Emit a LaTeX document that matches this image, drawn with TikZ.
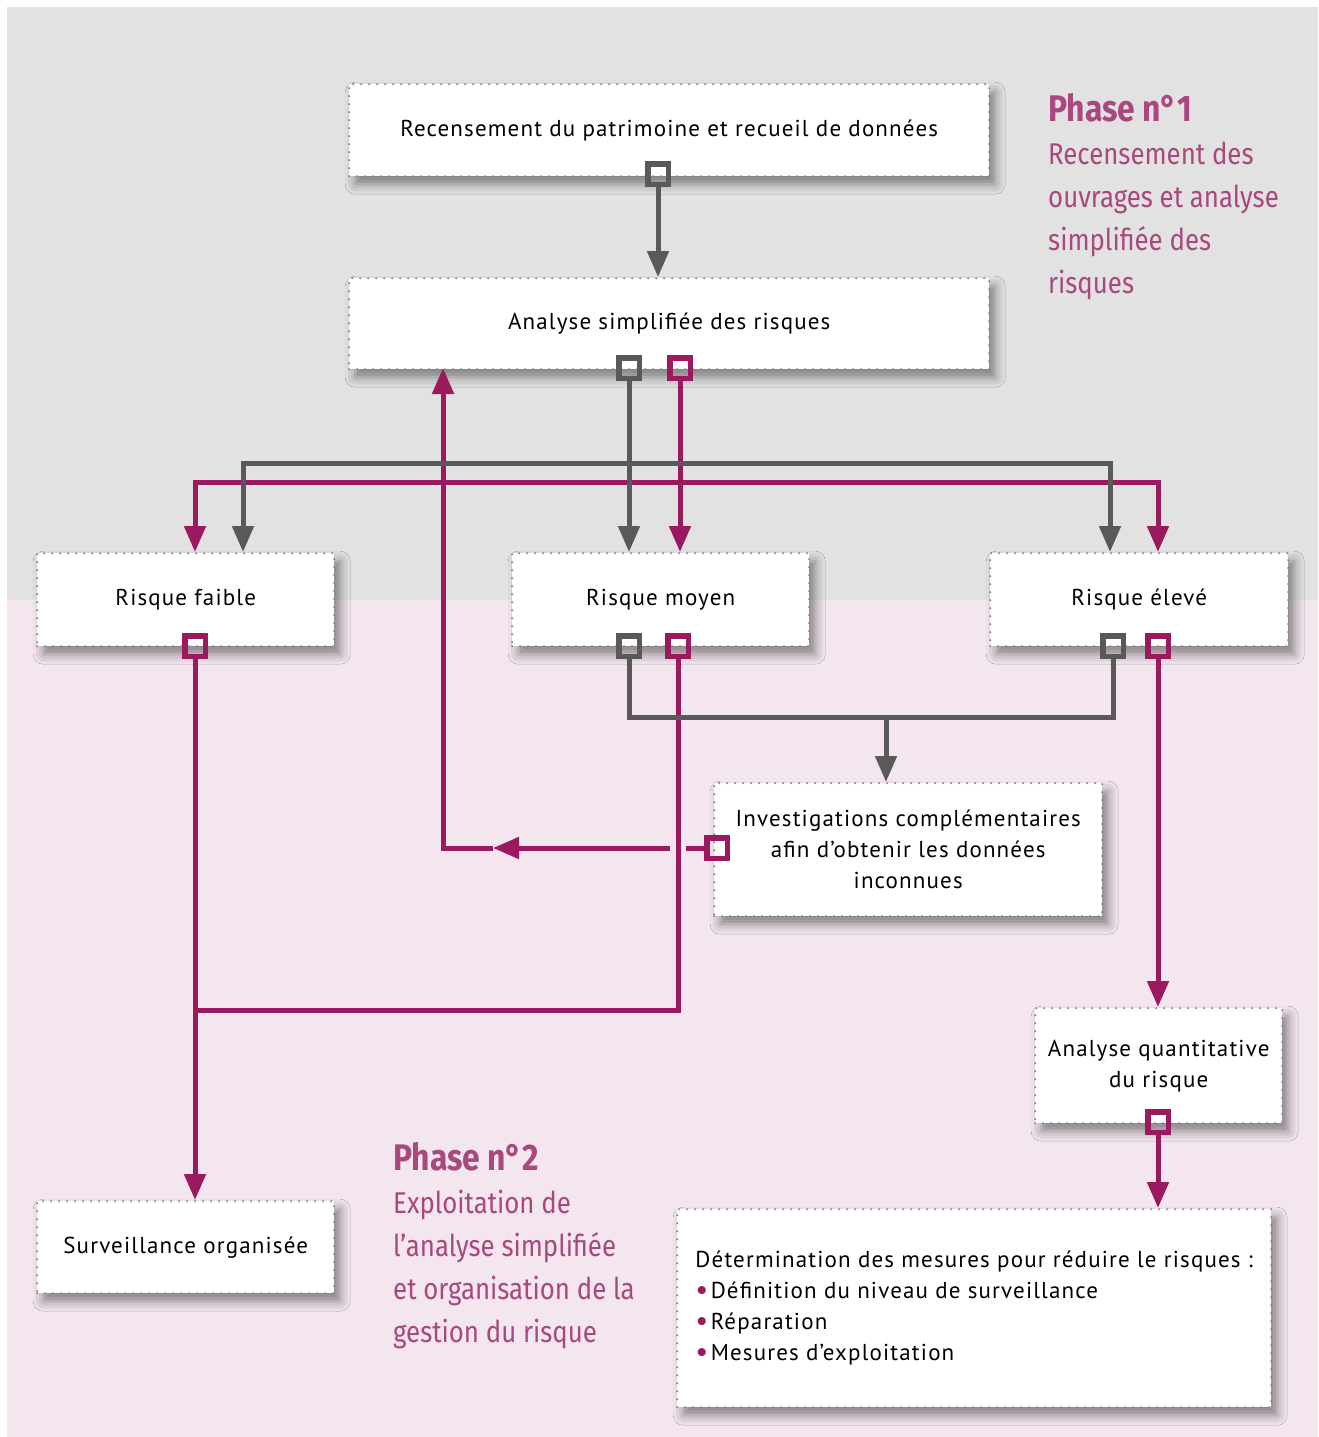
\documentclass[tikz,border=0pt]{standalone}
\usepackage{fontspec}
\setmainfont[LetterSpace=5]{PT Sans}
\newfontfamily\phasefont[FakeStretch=0.86]{Fira Sans}
\usetikzlibrary{arrows.meta,shadows.blur,calc}

\definecolor{bggray}{HTML}{E2E2E2}
\definecolor{bgpink}{HTML}{F3E6EF}
\definecolor{mag}{HTML}{9B195F}
\definecolor{dgray}{HTML}{595959}
\definecolor{dotc}{HTML}{8A8A8A}
\definecolor{phasec}{HTML}{A8487C}

\tikzset{
  box/.style={draw=dotc, line width=2.4pt, dash pattern=on 0pt off 8pt,
    line cap=round, fill=white, inner sep=0pt, align=center, anchor=north west,
    font=\fontsize{23}{31}\selectfont,
    blur shadow={shadow xshift=6pt, shadow yshift=-8pt,
      shadow blur radius=10pt, shadow opacity=45}},
  port/.style={rectangle, minimum size=26pt, inner sep=0pt, outer sep=0pt},
  portframe/.style={line width=5.5pt},
  gline/.style={draw=dgray, line width=5pt},
  mline/.style={draw=mag, line width=5pt},
  tip/.style={-{Triangle[length=26pt,width=21pt]}},
  garrow/.style={gline, tip},
  marrow/.style={mline, tip},
  phase/.style={text=phasec, anchor=north west, inner sep=0pt, align=left,
    font=\phasefont\fontsize{30}{43}\selectfont}
}
\newcommand{\puce}{{\color{mag}\raisebox{-0.05em}{\scalebox{1.25}{\textbullet}}}\hspace{0.1em}}
\newcommand{\portframe}[2]{%
  \draw[#2, portframe] ($(#1.south west)+(2.75pt,2.75pt)$) rectangle ($(#1.north east)+(-2.75pt,-2.75pt)$);}

\begin{document}
\begin{tikzpicture}[x=1pt, y=-1pt]
\useasboundingbox (0,0) rectangle (1318,1437);

% two phase backgrounds
\fill[bggray] (7,7) rectangle (1318,600);
\fill[bgpink] (7,600) rectangle (1318,1437);

% phase captions
\node[phase] (ph1) at (1048,93)
  {{\fontsize{37}{43}\selectfont\bfseries Phase n°1}\\
   Recensement des\\ ouvrages et analyse\\ simplifiée des\\ risques};
\node[phase] (ph2) at (393,1142)
  {{\fontsize{37}{43}\selectfont\bfseries Phase n°2}\\
   Exploitation de\\ l’analyse simplifiée\\ et organisation de la\\ gestion du risque};

% process boxes
\node[box, minimum width=640pt, minimum height=92pt] (rec) at (348,83)
  {Recensement du patrimoine et recueil de données};
\node[box, minimum width=640pt, minimum height=91pt] (ana) at (348,277)
  {Analyse simplifiée des risques};
\node[box, minimum width=297pt, minimum height=93pt] (fai) at (36,552)
  {Risque faible};
\node[box, minimum width=297pt, minimum height=93pt] (moy) at (511,552)
  {Risque moyen};
\node[box, minimum width=298pt, minimum height=93pt] (ele) at (989,552)
  {Risque élevé};
\node[box, minimum width=388pt, minimum height=133pt] (inv) at (713,782)
  {Investigations complémentaires\\ afin d’obtenir les données\\ inconnues};
\node[box, minimum width=247pt, minimum height=115pt] (qua) at (1034,1007)
  {Analyse quantitative\\ du risque};
\node[box, minimum width=297pt, minimum height=92pt] (sur) at (36,1200)
  {Surveillance organisée};
\node[box, minimum width=594pt, minimum height=198pt, align=left] (det) at (676,1208)
  {Détermination des mesures pour réduire le risques :\\
   \puce Définition du niveau de surveillance\\
   \puce Réparation\\
   \puce Mesures d’exploitation};

% connection ports
\node[port] (pg1) at (658,174) {};
\node[port] (pg2) at (629,368) {};
\node[port] (pg3) at (629,646) {};
\node[port] (pg4) at (1113,646) {};
\node[port] (pm1) at (680,368) {};
\node[port] (pm2) at (195,646) {};
\node[port] (pm3) at (678,646) {};
\node[port] (pm4) at (1158,646) {};
\node[port] (pm5) at (717,848) {};
\node[port] (pm6) at (1158,1122) {};

% junctions and entry points
\coordinate (gsplit) at (629,463);
\coordinate (gfai) at (243,552);
\coordinate (gele) at (1110,552);
\coordinate (msplit) at (680,482);
\coordinate (mfai) at (195,552);
\coordinate (mele) at (1158,552);
\coordinate (gjoin) at (886,717);
\coordinate (mjoin) at (195,1010);
\coordinate (midtip) at (493,848);
\coordinate (anain) at (443,368);

% magenta flows
\draw[marrow] (pm1) -- (pm1 |- moy.north);
\draw[marrow] (msplit) -| (mfai);
\draw[marrow] (msplit) -| (mele);
\draw[marrow] (pm2) -- (pm2 |- sur.north);
\draw[marrow] (pm5) -- (midtip);
\draw[marrow] (midtip) -| (anain);
\fill[bgpink] (670,840) rectangle (686,856);
\draw[mline] (pm3) |- (mjoin);
\draw[marrow] (pm4) -- (pm4 |- qua.north);
\draw[marrow] (pm6) -- (pm6 |- det.north);

% grey flows
\draw[garrow] (pg1) -- (pg1 |- ana.north);
\draw[garrow] (pg2) -- (pg2 |- moy.north);
\draw[garrow] (gsplit) -| (gfai);
\draw[garrow] (gsplit) -| (gele);
\draw[gline] (pg3) |- (gjoin) -| (pg4);
\draw[garrow] (gjoin) -- (gjoin |- inv.north);

% square port frames on top of the lines
\foreach \p in {pg1,pg2,pg3,pg4} {\portframe{\p}{dgray}}
\foreach \p in {pm1,pm2,pm3,pm4,pm5,pm6} {\portframe{\p}{mag}}
\end{tikzpicture}
\end{document}
